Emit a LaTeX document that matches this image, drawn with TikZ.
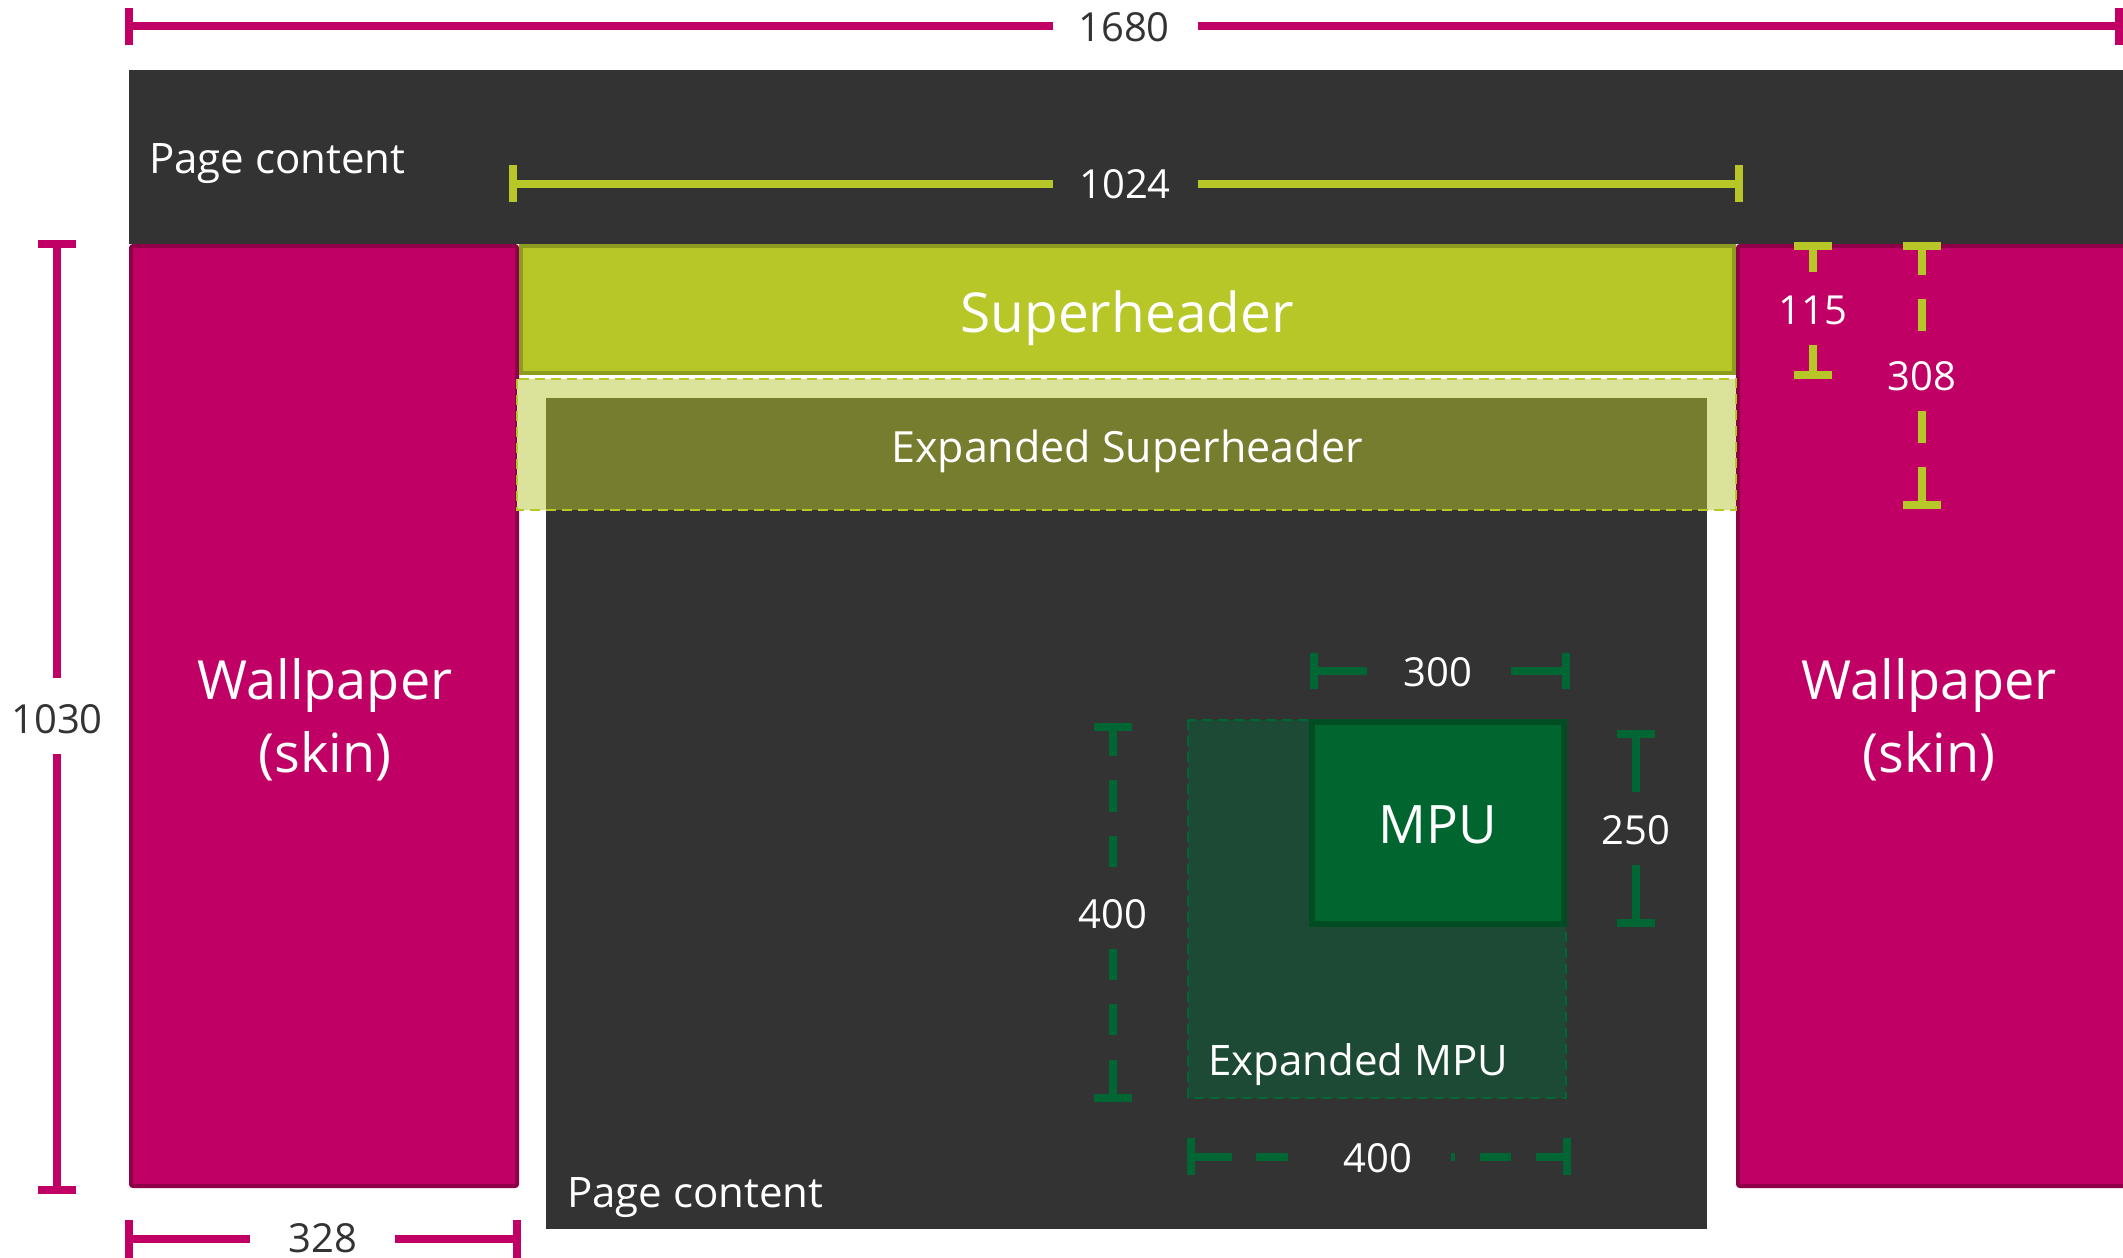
\documentclass[tikz,border=0pt]{standalone}
\usepackage{fontspec}
\setmainfont{Open Sans}
\definecolor{skinpink}{HTML}{C10066}
\definecolor{skinpinkdark}{HTML}{8E0047}
\definecolor{pagegrey}{HTML}{333333}
\definecolor{lime}{HTML}{B7C728}
\definecolor{limedark}{HTML}{8D9C1F}
\definecolor{limelight}{HTML}{DBE39A}
\definecolor{olive}{HTML}{767D2F}
\definecolor{mpugreen}{HTML}{00652F}
\definecolor{mpuborder}{HTML}{004D24}
\definecolor{expgreen}{HTML}{1D4A34}
\definecolor{dimgreen}{HTML}{006633}
\newcommand{\fs}[1]{\fontsize{#1}{1.35\dimexpr #1pt\relax}\selectfont}
\tikzset{
  x=1pt, y=-1pt,
  lbl/.style={inner sep=0pt, text=white},
  numlbl/.style={inner sep=0pt, anchor=base, font=\fs{40}},
  dimpink/.style={draw=skinpink, line width=8pt},
  dimlime/.style={draw=lime, line width=8pt},
  dimgr/.style={draw=dimgreen, line width=8pt},
}
\begin{document}
\begin{tikzpicture}
\useasboundingbox[fill=white] (0,0) rectangle (2123,1258);

% ---- page blocks ----
\fill[pagegrey] (129,70) rectangle (2123,244);
\node[lbl, anchor=base west, font=\fs{42}] (pctop) at (149,173) {Page content};

\draw[skinpinkdark, fill=skinpink, line width=4pt, rounded corners=2pt]
  (131,246) rectangle (517,1186);
\draw[skinpinkdark, fill=skinpink, line width=4pt, rounded corners=2pt]
  (1738,246) rectangle (2127,1186);
\node[lbl, align=center, font=\fs{54}] (wpl) at (325,720) {Wallpaper\\(skin)};
\node[lbl, align=center, font=\fs{54}] (wpr) at (1929,720) {Wallpaper\\(skin)};

\fill[pagegrey] (546,398) rectangle (1707,1229);
\node[lbl, anchor=base west, font=\fs{42}] (pcbot) at (567,1207) {Page content};

% superheader and its expanded area
\draw[limedark, fill=lime, line width=4pt] (521,246) rectangle (1734,373);
\node[lbl, anchor=base, font=\fs{55}] (sh) at (1127,332) {Superheader};
\fill[limelight] (517,379) rectangle (1736,510);
\fill[olive] (546,398) rectangle (1707,510);
\draw[lime, line width=2pt, dash pattern=on 10pt off 6pt] (517,379) rectangle (1736,510);
\node[lbl, anchor=base, font=\fs{43}] (esh) at (1127,462) {Expanded Superheader};

% MPU and its expanded area
\draw[dimgreen, fill=expgreen, line width=2pt, dash pattern=on 10pt off 6pt] (1188,720) rectangle (1566,1098);
\node[lbl, anchor=base west, font=\fs{42}] (empu) at (1208,1075) {Expanded MPU};
\draw[mpuborder, fill=mpugreen, line width=6pt] (1312,722) rectangle (1564,924);
\node[lbl, anchor=base, font=\fs{53}] (mpu) at (1438,843) {MPU};

% ---- dimension: 1680 ----
\node[numlbl, text=pagegrey] (n1680) at (1124,41) {1680};
\coordinate (a1680) at (129,26); \coordinate (b1680) at (2120,26);
\draw[dimpink] (a1680) -- (1053,26) (1198,26) -- (b1680);
\draw[dimpink] (129,8) -- (129,45) (2119,8) -- (2119,45);

% ---- dimension: 1024 ----
\node[numlbl, text=white] (n1024) at (1125,198) {1024};
\coordinate (a1024) at (513,184); \coordinate (b1024) at (1739,184);
\draw[dimlime] (a1024) -- (1053,184) (1198,184) -- (b1024);
\draw[dimlime] (513,165) -- (513,202) (1739,165) -- (1739,202);

% ---- dimension: 1030 ----
\node[numlbl, text=pagegrey] (n1030) at (57,733) {1030};
\coordinate (a1030) at (57,244); \coordinate (b1030) at (57,1190);
\draw[dimpink] (a1030) -- (57,678) (57,754) -- (b1030);
\draw[dimpink] (38,244) -- (76,244) (38,1190) -- (76,1190);

% ---- dimension: 328 ----
\node[numlbl, text=pagegrey] (n328) at (323,1252) {328};
\coordinate (a328) at (129,1239); \coordinate (b328) at (517,1239);
\draw[dimpink] (a328) -- (250,1239) (395,1239) -- (b328);
\draw[dimpink] (129,1220) -- (129,1262) (517,1220) -- (517,1262);

% ---- dimension: 115 ----
\node[numlbl, text=white] (n115) at (1813,324) {115};
\coordinate (a115) at (1813,246); \coordinate (b115) at (1813,375);
\draw[dimlime] (a115) -- (1813,272) (1813,345) -- (b115);
\draw[dimlime] (1794,246) -- (1832,246) (1794,375) -- (1832,375);

% ---- dimension: 308 ----
\node[numlbl, text=white] (n308) at (1922,390) {308};
\draw[dimlime] (1903,246) -- (1941,246) (1903,505) -- (1941,505);
\foreach \ya/\yb in {246/275, 299/331, 411/443, 467/505}
  \draw[dimlime] (1922,\ya) -- (1922,\yb);

% ---- dimension: 300 ----
\node[numlbl, text=white] (n300) at (1438,686) {300};
\draw[dimgr] (1314,671) -- (1367,671) (1511,671) -- (1566,671);
\draw[dimgr] (1314,653) -- (1314,689) (1566,653) -- (1566,689);

% ---- dimension: 250 ----
\node[numlbl, text=white] (n250) at (1636,844) {250};
\draw[dimgr] (1636,734) -- (1636,792) (1636,865) -- (1636,923);
\draw[dimgr] (1617,734) -- (1655,734) (1617,923) -- (1655,923);

% ---- dimension: 400 (height) ----
\node[numlbl, text=white] (n400v) at (1113,928) {400};
\draw[dimgr] (1094,727) -- (1132,727) (1094,1098) -- (1132,1098);
\foreach \ya/\yb in {727/756, 780/812, 836/867, 949/980, 1004/1035, 1060/1098}
  \draw[dimgr] (1113,\ya) -- (1113,\yb);

% ---- dimension: 400 (width) ----
\node[numlbl, text=white] (n400h) at (1378,1172) {400};
\draw[dimgr] (1191,1138) -- (1191,1175) (1567,1138) -- (1567,1175);
\foreach \xa/\xb in {1191/1232, 1256/1288, 1451/1455, 1480/1511, 1536/1567}
  \draw[dimgr] (\xa,1157) -- (\xb,1157);
\end{tikzpicture}
\end{document}
